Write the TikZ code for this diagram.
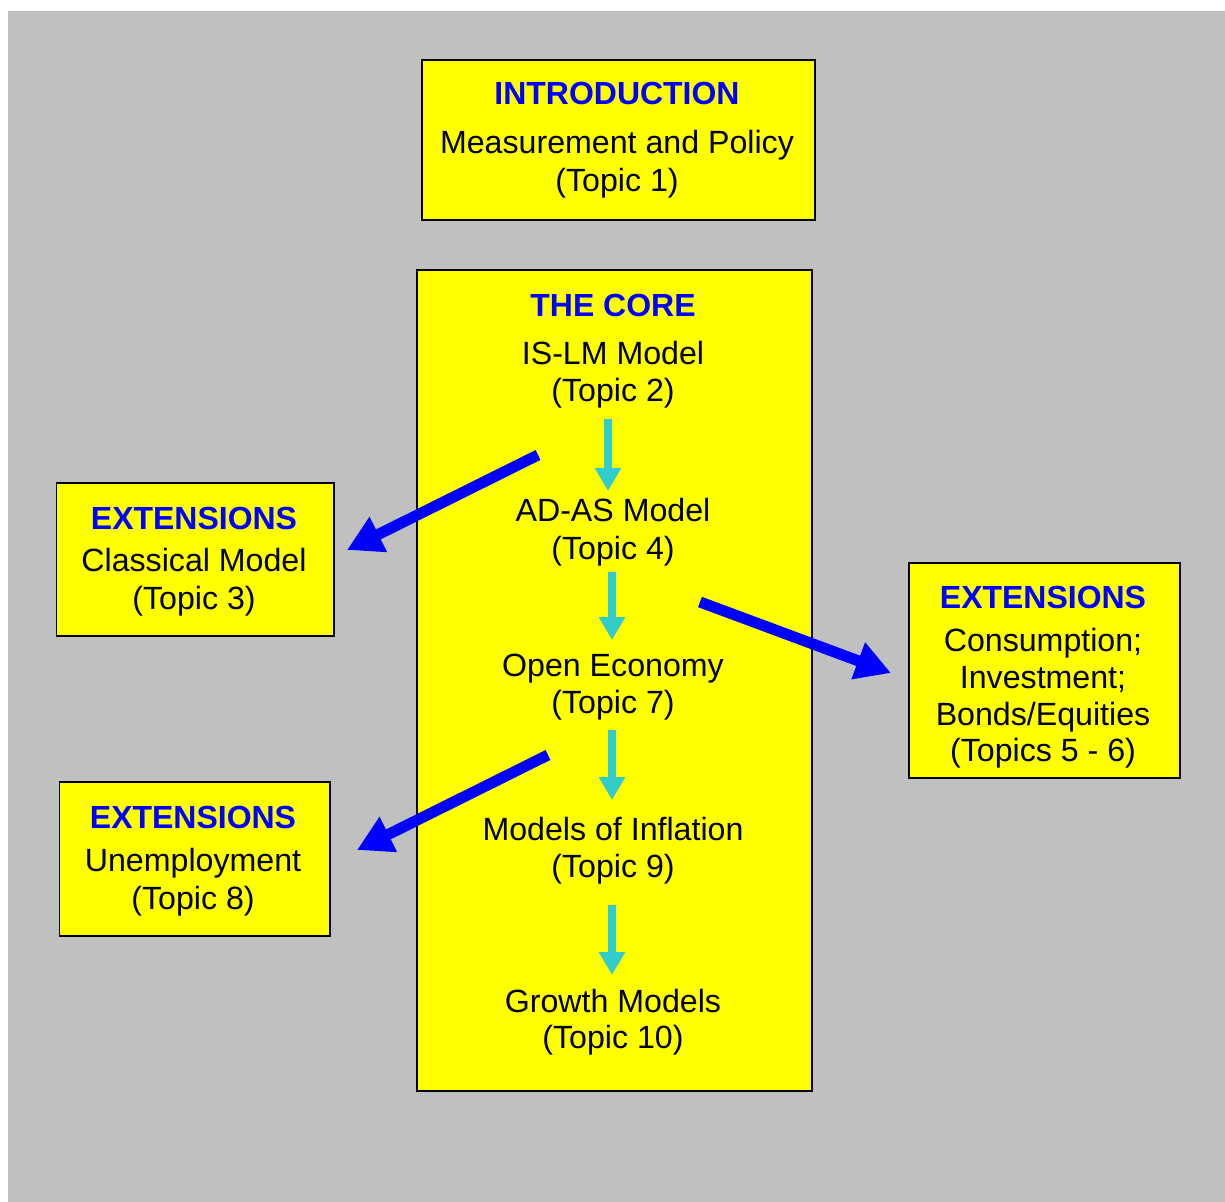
\documentclass[tikz,border=0pt]{standalone}
\usepackage{fontspec}
\setmainfont{Liberation Sans}
\usetikzlibrary{arrows.meta}
\definecolor{bggray}{HTML}{C0C0C0}
\definecolor{boxyellow}{HTML}{FFFF00}
\definecolor{titleblue}{HTML}{0000FF}
\definecolor{arrowcyan}{HTML}{33CCCC}
\tikzset{
  panel/.style={draw=black, fill=boxyellow, line width=0.04cm},
  txt/.style={anchor=base, inner sep=0pt, font=\fontsize{18.3}{21}\selectfont},
  ttl/.style={txt, text=titleblue, font=\fontsize{18.2}{21}\selectfont\bfseries},
  bigarrow/.style={draw=titleblue, line width=0.22cm, -{Triangle[length=0.7cm,width=0.74cm]}},
  flowarrow/.style={draw=arrowcyan, line width=0.17cm, -{Triangle[length=0.46cm,width=0.5cm]}}
}
\begin{document}
\begin{tikzpicture}[x=0.02cm,y=-0.02cm]
\useasboundingbox (0,0) rectangle (1225,1202);
\fill[bggray] (8,11) rectangle (1225,1202);

% boxes
\node[panel, minimum width=393*0.02cm, minimum height=160*0.02cm, anchor=north west] (intro) at (420.5,59.5) {};
\node[panel, minimum width=395*0.02cm, minimum height=820*0.02cm, anchor=north west] (core) at (415.5,269.5) {};
\node[panel, minimum width=277*0.02cm, minimum height=153*0.02cm, anchor=north west] (ext1) at (55.5,482.5) {};
\node[panel, minimum width=270*0.02cm, minimum height=154*0.02cm, anchor=north west] (ext2) at (58.5,781.5) {};
\node[panel, minimum width=271*0.02cm, minimum height=215*0.02cm, anchor=north west] (ext3) at (907.5,562.5) {};

% intro text
\node[ttl] (introT) at (617,105) {INTRODUCTION};
\node[txt] (introA) at (617,154) {Measurement and Policy};
\node[txt] (introB) at (617,192) {(Topic 1)};

% core text
\node[ttl] (coreT) at (613,317) {THE CORE};
\node[txt] (c1a) at (613,365) {IS-LM Model};
\node[txt] (c1b) at (613,402) {(Topic 2)};
\node[txt] (c2a) at (613,522) {AD-AS Model};
\node[txt] (c2b) at (613,560) {(Topic 4)};
\node[txt] (c3a) at (613,677) {Open Economy};
\node[txt] (c3b) at (613,714) {(Topic 7)};
\node[txt] (c4a) at (613,841) {Models of Inflation};
\node[txt] (c4b) at (613,878) {(Topic 9)};
\node[txt] (c5a) at (613,1012) {Growth Models};
\node[txt] (c5b) at (613,1049) {(Topic 10)};

% extensions text
\node[ttl] (e1T) at (194,530) {EXTENSIONS};
\node[txt] (e1a) at (194,572) {Classical Model};
\node[txt] (e1b) at (194,610) {(Topic 3)};

\node[ttl] (e2T) at (193,829) {EXTENSIONS};
\node[txt] (e2a) at (193,872) {Unemployment};
\node[txt] (e2b) at (193,909) {(Topic 8)};

\node[ttl] (e3T) at (1043,609) {EXTENSIONS};
\node[txt] (e3a) at (1043,652) {Consumption;};
\node[txt] (e3b) at (1043,689) {Investment;};
\node[txt] (e3c) at (1043,726) {Bonds/Equities};
\node[txt] (e3d) at (1043,762) {(Topics 5 - 6)};

% connector coordinates
\coordinate (f1s) at (608,419); \coordinate (f1e) at (608,491);
\coordinate (f2s) at (612,572); \coordinate (f2e) at (612,640);
\coordinate (f3s) at (612,730); \coordinate (f3e) at (612,800);
\coordinate (f4s) at (612,905); \coordinate (f4e) at (612,975);

\coordinate (b1s) at (538,455); \coordinate (b1e) at (347,550);
\coordinate (b2s) at (700,602); \coordinate (b2e) at (891,673);
\coordinate (b3s) at (548,755); \coordinate (b3e) at (357,850);

\draw[flowarrow] (f1s) -- (f1e);
\draw[flowarrow] (f2s) -- (f2e);
\draw[flowarrow] (f3s) -- (f3e);
\draw[flowarrow] (f4s) -- (f4e);

\draw[bigarrow] (b1s) -- (b1e);
\draw[bigarrow] (b2s) -- (b2e);
\draw[bigarrow] (b3s) -- (b3e);
\end{tikzpicture}
\end{document}
